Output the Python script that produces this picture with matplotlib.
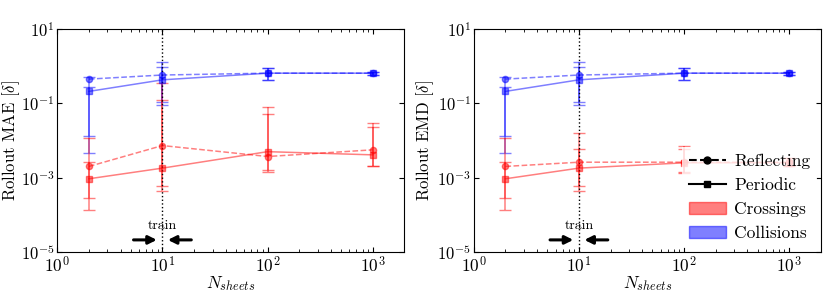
import matplotlib
matplotlib.use("Agg")
import matplotlib.pyplot as plt
from matplotlib.lines import Line2D
from matplotlib.patches import Patch
import numpy as np

plt.rcParams['font.family'] = 'serif'
plt.rcParams['font.serif'] = ['cmr10', 'DejaVu Serif']
plt.rcParams['mathtext.fontset'] = 'cm'
plt.rcParams['axes.formatter.use_mathtext'] = True
plt.rcParams['font.size'] = 12.5
plt.rcParams['xtick.direction'] = 'in'
plt.rcParams['ytick.direction'] = 'in'
plt.rcParams['xtick.top'] = True
plt.rcParams['ytick.right'] = True
plt.rcParams['xtick.major.pad'] = 2
plt.rcParams['ytick.major.pad'] = 2
plt.rcParams['ytick.labelsize'] = 12

# N_sheets
n_sheets = [2, 10, 100, 1000]

# Collisions (blue) - same in both panels
col_per = [0.21, 0.43, 0.65, 0.65]
col_per_lo = [0.0046, 0.09, 0.43, 0.58]
col_per_hi = [0.27, 0.97, 0.87, 0.72]
col_ref = [0.45, 0.58, 0.65, 0.65]
col_ref_lo = [0.013, 0.11, 0.43, 0.58]
col_ref_hi = [0.50, 1.3, 0.87, 0.72]

# Crossings (red), MAE panel
mae_per = [9.3e-4, 1.8e-3, 5.0e-3, 4.1e-3]
mae_per_lo = [1.35e-4, 4.3e-4, 1.45e-3, 2.0e-3]
mae_per_hi = [2.7e-3, 0.12, 0.051, 0.023]
mae_ref = [2.0e-3, 7.3e-3, 3.7e-3, 5.6e-3]
mae_ref_lo = [2.9e-4, 5.8e-4, 1.6e-3, 2.0e-3]
mae_ref_hi = [0.0115, 0.35, 0.079, 0.029]

# Crossings (red), EMD panel
emd_per = [9.3e-4, 1.8e-3, 2.5e-3, 2.5e-3]
emd_per_lo = [1.35e-4, 4.3e-4, 1.3e-3, 2.0e-3]
emd_per_hi = [2.7e-3, 5.9e-3, 5.9e-3, 3.3e-3]
emd_ref = [2.0e-3, 2.6e-3, 2.6e-3, 2.6e-3]
emd_ref_lo = [2.9e-4, 5.8e-4, 1.45e-3, 2.0e-3]
emd_ref_hi = [0.0115, 0.016, 6.9e-3, 3.3e-3]


def err(y, lo, hi):
    y = np.array(y)
    return [y - np.array(lo), np.array(hi) - y]


def draw_series(ax, y, lo, hi, color, ls, marker):
    ax.errorbar(n_sheets, y, yerr=err(y, lo, hi), color=color, ls=ls,
                marker=marker, markersize=4.5, lw=1.1, capsize=4, alpha=0.5,
                markeredgecolor=color)


fig, axes = plt.subplots(1, 2, figsize=(8.3, 2.97), dpi=100)
fig.subplots_adjust(left=0.069, right=0.989, top=0.902, bottom=0.152, wspace=0.2)

panels = [
    (axes[0], 'Rollout MAE [$\\delta$]', mae_per, mae_per_lo, mae_per_hi, mae_ref, mae_ref_lo, mae_ref_hi),
    (axes[1], 'Rollout EMD [$\\delta$]', emd_per, emd_per_lo, emd_per_hi, emd_ref, emd_ref_lo, emd_ref_hi),
]

for ax, ylab, rp, rpl, rph, rr, rrl, rrh in panels:
    ax.set_xscale('log')
    ax.set_yscale('log')
    draw_series(ax, col_ref, col_ref_lo, col_ref_hi, 'b', '--', 'o')
    draw_series(ax, col_per, col_per_lo, col_per_hi, 'b', '-', 's')
    draw_series(ax, rr, rrl, rrh, 'r', '--', 'o')
    draw_series(ax, rp, rpl, rph, 'r', '-', 's')
    ax.axvline(10, color='k', ls=':', lw=1)
    ax.annotate('', xy=(9.4, 2.1e-5), xytext=(5, 2.1e-5),
                arrowprops=dict(arrowstyle='-|>', color='k', lw=2.2, mutation_scale=12))
    ax.annotate('', xy=(10.6, 2.1e-5), xytext=(20, 2.1e-5),
                arrowprops=dict(arrowstyle='-|>', color='k', lw=2.2, mutation_scale=12))
    ax.text(10, 4.9e-5, 'train', ha='center', va='center', fontsize=10)
    ax.set_xlim(1, 2000)
    ax.set_ylim(1e-5, 10)
    ax.set_yticks([1e-5, 1e-3, 1e-1, 1e1])
    ax.yaxis.set_minor_locator(matplotlib.ticker.NullLocator())
    ax.set_ylabel(ylab, fontsize=12)
    ax.set_xlabel('$N_{sheets}$', labelpad=-1)

axes[0].yaxis.set_label_coords(-0.103, 0.5)
axes[1].yaxis.set_label_coords(-0.11, 0.5)

handles = [
    Line2D([0], [0], color='k', ls='--', marker='o', markersize=5),
    Line2D([0], [0], color='k', ls='-', marker='s', markersize=5),
    Patch(facecolor='r', alpha=0.5, edgecolor='r'),
    Patch(facecolor='b', alpha=0.5, edgecolor='b'),
]
leg = axes[1].legend(handles, ['Reflecting', 'Periodic', 'Crossings', 'Collisions'],
                     loc='lower right', handlelength=2.1, frameon=True,
                     framealpha=0.8, edgecolor='none', fancybox=False,
                     borderaxespad=0.2, labelspacing=0.5, handletextpad=0.5)

fig.savefig('out.png', dpi=100)
